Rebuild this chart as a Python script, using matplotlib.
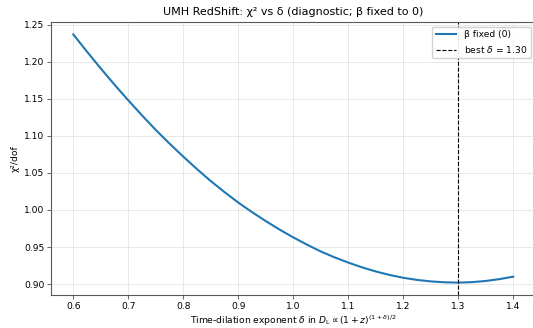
import numpy as np
import matplotlib
matplotlib.use('Agg')
import matplotlib.pyplot as plt

# chi2/dof (beta fixed to 0)
delta = [0.600, 0.625, 0.650, 0.675, 0.700, 0.725, 0.750, 0.775, 0.800,
         0.825, 0.850, 0.875, 0.900, 0.925, 0.950, 0.975, 1.000,
         1.025, 1.050, 1.075, 1.100, 1.125, 1.150, 1.175, 1.200,
         1.225, 1.250, 1.275, 1.300, 1.325, 1.350, 1.375, 1.400]
chi2_dof = [1.2370, 1.2136, 1.1910, 1.1691, 1.1480, 1.1276, 1.1080, 1.0896, 1.0720,
            1.0551, 1.0390, 1.0241, 1.0100, 0.9971, 0.9850, 0.9736, 0.9630,
            0.9532, 0.9440, 0.9361, 0.9290, 0.9226, 0.9170, 0.9123, 0.9085,
            0.9056, 0.9036, 0.9024, 0.9020, 0.9026, 0.9042, 0.9067, 0.9100]
best_delta = 1.30

fig = plt.figure(figsize=(5.33, 3.28), dpi=100)
ax = fig.add_axes([51.3 / 533, 1 - 295 / 328, 484 / 533, 273 / 328])

ax.plot(delta, chi2_dof, color='#1f77b4', lw=1.5, label='β fixed (0)')
ax.axvline(best_delta, color='black', ls='--', lw=0.8,
           label=r'best $\delta$ = %.2f' % best_delta)

ax.set_title('UMH RedShift: χ² vs δ (diagnostic; β fixed to 0)', fontsize=8, pad=5)
ax.set_xlabel(r'Time-dilation exponent $\delta$ in $D_\mathrm{L} \propto (1+z)^{(1+\delta)/2}$',
              fontsize=6.6, labelpad=2)
ax.set_ylabel('χ²/dof', fontsize=6.6, labelpad=3)
ax.tick_params(labelsize=6.6, length=3, width=0.6, pad=2, color='0.3')
ax.set_xticks(np.arange(0.6, 1.41, 0.1))
ax.set_yticks(np.arange(0.90, 1.251, 0.05))
ax.grid(True, color='0.85', lw=0.6, alpha=0.7)
for side in ax.spines:
    ax.spines[side].set_color('0.35')
    ax.spines[side].set_linewidth(0.8)
ax.spines['right'].set_visible(False)
ax.legend(loc='upper right', fontsize=6.6, framealpha=0.9, borderpad=0.4,
          handlelength=2.2, edgecolor='0.8')

fig.savefig('out.png', dpi=100)
